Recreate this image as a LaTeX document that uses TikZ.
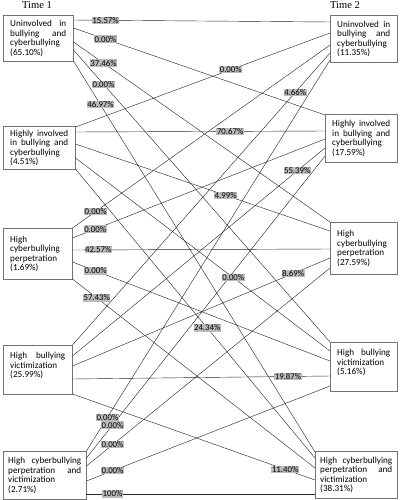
\documentclass[tikz,border=0pt]{standalone}
\usepackage{fontspec}
\setmainfont{Carlito}
\newfontfamily\timefont{Liberation Serif}

\tikzset{
  state/.style={draw=black!55, line width=0.7pt, anchor=north west, align=justify,
    inner xsep=0.35cm, inner ysep=0pt,
    font=\fontsize{13}{13.5}\selectfont,
    execute at begin node={\hyphenpenalty=10000\tolerance=10000\hbadness=10000}},
  prob/.style={fill=black!27, inner sep=0.8pt, font=\fontsize{12.5}{13}\selectfont},
  link/.style={draw=black!85, line width=0.6pt},
  time/.style={font=\timefont\fontsize{15}{16}\selectfont},
}

% from box / to box / label pos / percentage
\newcommand\transitions{1/1/.125/15.57, 1/2/.127/0.00, 1/3/.117/37.46, 1/4/.117/0.00, 1/5/.112/46.97,
  2/1/.61/0.00, 2/2/.62/70.67, 2/3/.59/4.99, 2/4/.62/0.00, 2/5/.55/24.34,
  3/1/.09/0.00, 3/2/.09/0.00, 3/3/.10/42.57, 3/4/.09/0.00, 3/5/.10/57.43,
  4/1/.865/4.66, 4/2/.89/55.39, 4/3/.857/8.69, 4/4/.837/19.87, 4/5/.877/11.40,
  5/1/.086/0.00, 5/2/.109/0.00, 5/3/.107/0.00, 5/4/.107/0.00, 5/5/.114/100}

\begin{document}
\begin{tikzpicture}[x=0.05cm, y=-0.05cm]
  \useasboundingbox (0,0) rectangle (400,500);

  \node (T1) [time] at (37,5.5) {Time 1};
  \node (T2) [time] at (345,5.5) {Time 2};

  % time 1
  \node (U1) [state, text width=2.8cm, minimum height=2.3cm] at (3,15)
    {Uninvolved in\linebreak bullying and\linebreak cyberbullying\linebreak (65.10\%)};
  \node (U2) [state, text width=2.9cm, minimum height=2.15cm] at (3,126)
    {Highly involved\linebreak in bullying and\linebreak cyberbullying\linebreak (4.51\%)};
  \node (U3) [state, text width=2.75cm, minimum height=2.55cm] at (3,228)
    {High\linebreak cyberbullying\linebreak perpetration\linebreak (1.69\%)};
  \node (U4) [state, text width=2.75cm, minimum height=2.45cm] at (3,345)
    {High bullying\linebreak victimization\linebreak (25.99\%)\\ \mbox{}};
  \node (U5) [state, text width=3.65cm, inner xsep=0.25cm, minimum height=2.4cm] at (3,451)
    {High cyberbullying\linebreak perpetration and\linebreak victimization\linebreak (2.71\%)};

  % time 2
  \node (V1) [state, text width=2.65cm, minimum height=2.35cm] at (330,15)
    {Uninvolved in\linebreak bullying and\linebreak cyberbullying\linebreak (11.35\%)};
  \node (V2) [state, text width=2.9cm, minimum height=2.4cm] at (325,114)
    {Highly involved\linebreak in bullying and\linebreak cyberbullying\linebreak (17.59\%)};
  \node (V3) [state, text width=2.65cm, minimum height=2.6cm] at (330,222)
    {High\linebreak cyberbullying\linebreak perpetration\linebreak (27.59\%)};
  \node (V4) [state, text width=2.65cm, minimum height=2.45cm] at (330,342)
    {High bullying\linebreak victimization\linebreak (5.16\%)\\ \mbox{}};
  \node (V5) [state, text width=3.6cm, inner xsep=0.25cm, minimum height=2.35cm] at (315,451)
    {High cyberbullying\linebreak perpetration and\linebreak victimization\linebreak (38.31\%)};

  % where the lines leave and reach the boxes
  \foreach \j/\y in {1/20,2/28,3/42,4/50,5/61} \coordinate (U1-\j) at (U1.east |- 0,\y);
  \foreach \j/\y in {1/127,2/132,3/144,4/158,5/169} \coordinate (U2-\j) at (U2.east |- 0,\y);
  \foreach \j/\y in {1/228,2/238,3/250,4/262,5/279} \coordinate (U3-\j) at (U3.east |- 0,\y);
  \foreach \j/\y in {1/345,2/356,3/366,4/379,5/394} \coordinate (U4-\j) at (U4.east |- 0,\y);
  \foreach \j/\y in {1/451,2/458,3/466,4/481,5/494} \coordinate (U5-\j) at (U5.east |- 0,\y);
  \foreach \i/\y in {1/22,2/33,3/45,4/53,5/60} \coordinate (V1-\i) at (V1.west |- 0,\y);
  \foreach \i/\y in {1/115,2/131,3/139,4/148,5/156} \coordinate (V2-\i) at (V2.west |- 0,\y);
  \foreach \i/\y in {1/222,2/231,3/249,4/258,5/268} \coordinate (V3-\i) at (V3.west |- 0,\y);
  \foreach \i/\y in {1/342,2/351,3/361,4/376,5/386} \coordinate (V4-\i) at (V4.west |- 0,\y);
  \foreach \i/\y in {1/452,2/458,3/468,4/480,5/494} \coordinate (V5-\i) at (V5.west |- 0,\y);

  \foreach \i/\j/\p/\v in \transitions \draw[link] (U\i-\j) -- (V\j-\i);
  \foreach \i/\j/\p/\v in \transitions \path (U\i-\j) -- node[prob, pos=\p] {\v\%} (V\j-\i);
\end{tikzpicture}
\end{document}
